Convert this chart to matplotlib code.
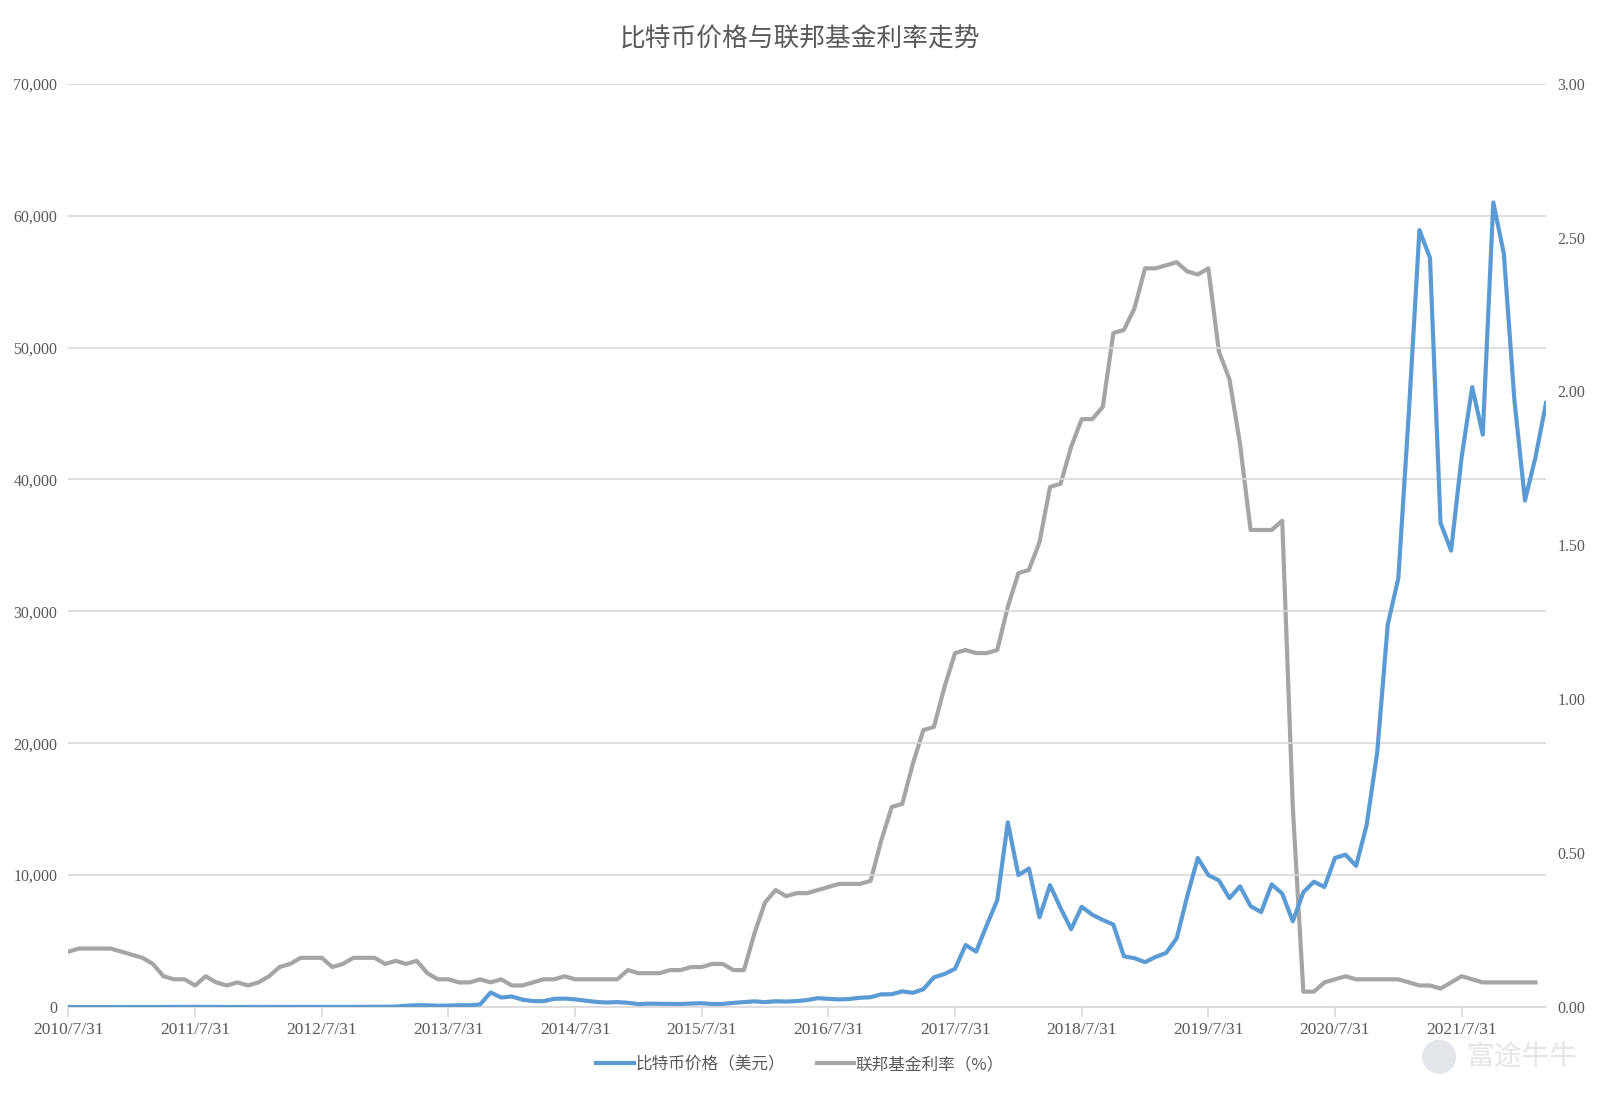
import matplotlib
matplotlib.use("Agg")
import matplotlib.pyplot as plt
from matplotlib.lines import Line2D
from matplotlib.patches import Ellipse

# ---------------- data ----------------
tick_labels = ["2010/7/31", "2011/7/31", "2012/7/31", "2013/7/31", "2014/7/31", "2015/7/31",
               "2016/7/31", "2017/7/31", "2018/7/31", "2019/7/31", "2020/7/31", "2021/7/31"]

# Monthly BTC price (USD), 2010-07 .. 2022-03
btc_price = [
    0.07, 0.06, 0.06, 0.19, 0.21, 0.30,                                   # 2010
    0.52, 0.86, 0.78, 3.5, 8.7, 16.1, 13.4, 8.2, 5.1, 3.3, 3.0, 4.7,      # 2011
    5.5, 4.9, 4.9, 5.0, 5.2, 6.7, 9.4, 10.2, 12.4, 11.2, 12.6, 13.5,      # 2012
    20, 33, 93, 139, 129, 97, 106, 135, 133, 198, 1100, 720,              # 2013
    800, 560, 450, 440, 620, 640, 580, 480, 390, 340, 375, 320,           # 2014
    220, 255, 245, 235, 230, 265, 285, 230, 237, 315, 375, 430,           # 2015
    370, 435, 415, 450, 530, 670, 625, 575, 610, 700, 745, 960,           # 2016
    970, 1190, 1080, 1350, 2250, 2500, 2900, 4700, 4200, 6200, 8100, 14000,  # 2017
    10000, 10500, 6800, 9240, 7500, 5900, 7600, 7000, 6600, 6250, 3850, 3700,  # 2018
    3400, 3800, 4100, 5200, 8400, 11300, 10000, 9600, 8250, 9150, 7650, 7200,  # 2019
    9300, 8600, 6500, 8700, 9500, 9100, 11300, 11550, 10700, 13800, 19300, 29000,  # 2020
    32500, 45100, 58900, 56800, 36700, 34600, 41700, 47000, 43400, 61000, 57100, 46000,  # 2021
    38400, 41700, 45800,                                                  # 2022
]

# Monthly effective federal funds rate (%), 2010-07 .. 2022-02
fed_rate = [
    0.18, 0.19, 0.19, 0.19, 0.19, 0.18,                                   # 2010
    0.17, 0.16, 0.14, 0.10, 0.09, 0.09, 0.07, 0.10, 0.08, 0.07, 0.08, 0.07,  # 2011
    0.08, 0.10, 0.13, 0.14, 0.16, 0.16, 0.16, 0.13, 0.14, 0.16, 0.16, 0.16,  # 2012
    0.14, 0.15, 0.14, 0.15, 0.11, 0.09, 0.09, 0.08, 0.08, 0.09, 0.08, 0.09,  # 2013
    0.07, 0.07, 0.08, 0.09, 0.09, 0.10, 0.09, 0.09, 0.09, 0.09, 0.09, 0.12,  # 2014
    0.11, 0.11, 0.11, 0.12, 0.12, 0.13, 0.13, 0.14, 0.14, 0.12, 0.12, 0.24,  # 2015
    0.34, 0.38, 0.36, 0.37, 0.37, 0.38, 0.39, 0.40, 0.40, 0.40, 0.41, 0.54,  # 2016
    0.65, 0.66, 0.79, 0.90, 0.91, 1.04, 1.15, 1.16, 1.15, 1.15, 1.16, 1.30,  # 2017
    1.41, 1.42, 1.51, 1.69, 1.70, 1.82, 1.91, 1.91, 1.95, 2.19, 2.20, 2.27,  # 2018
    2.40, 2.40, 2.41, 2.42, 2.39, 2.38, 2.40, 2.13, 2.04, 1.83, 1.55, 1.55,  # 2019
    1.55, 1.58, 0.65, 0.05, 0.05, 0.08, 0.09, 0.10, 0.09, 0.09, 0.09, 0.09,  # 2020
    0.09, 0.08, 0.07, 0.07, 0.06, 0.08, 0.10, 0.09, 0.08, 0.08, 0.08, 0.08,  # 2021
    0.08, 0.08,                                                           # 2022
]

series_names = ["比特币价格（美元）", "联邦基金利率（%）"]

# ---------------- style ----------------
BLUE = "#5B9BD5"
GRAY = "#A5A5A5"
TEXT = "#595959"
GRID = "#D9D9D9"
NUM_FONT = ["Liberation Serif", "DejaVu Serif"]
CJK_FONT = ["Noto Sans CJK SC", "DejaVu Sans"]

W, H = 1600, 1094
fig = plt.figure(figsize=(W / 100, H / 100), dpi=100)
ax = fig.add_axes([0.0428, 0.0795, 0.9235, 0.8440])
ax2 = ax.twinx()

x_btc = list(range(len(btc_price)))
x_fed = list(range(len(fed_rate)))

ax2.plot(x_fed, fed_rate, color=GRAY, lw=3.0, solid_joinstyle="round", zorder=2)
ax.plot(x_btc, btc_price, color=BLUE, lw=3.0, solid_joinstyle="round", zorder=3)
ax.set_zorder(ax2.get_zorder() + 1)
ax.patch.set_visible(False)

ax.set_xlim(0, len(btc_price) - 1)
ax.set_ylim(0, 70000)
ax2.set_ylim(0, 3.0)

ax.set_yticks(range(0, 70001, 10000))
ax.set_yticklabels([f"{v:,}" for v in range(0, 70001, 10000)])
ax2.set_yticks([i * 0.5 for i in range(7)])
ax2.set_yticklabels([f"{i * 0.5:.2f}" for i in range(7)])

ax.set_xticks(range(0, 12 * len(tick_labels), 12))
ax.set_xticklabels(tick_labels)

ax.grid(axis="y", color=GRID, lw=1.2)
ax.set_axisbelow(True)

for a in (ax, ax2):
    for s in ("top", "left", "right"):
        a.spines[s].set_visible(False)
    a.spines["bottom"].set_color(GRID)
    a.spines["bottom"].set_linewidth(1.2)
ax2.spines["bottom"].set_visible(False)

ax.tick_params(axis="y", length=0, pad=8, labelsize=11.5, labelcolor=TEXT)
ax2.tick_params(axis="y", length=0, pad=8, labelsize=11.5, labelcolor=TEXT)
ax.tick_params(axis="x", length=7, width=1.2, color=GRID, pad=4, labelsize=12.5, labelcolor=TEXT)
for lab in ax.get_yticklabels() + ax2.get_yticklabels() + ax.get_xticklabels():
    lab.set_family(NUM_FONT)

fig.text(0.5, 0.964, "比特币价格与联邦基金利率走势", ha="center", va="center",
         fontsize=18.5, color=TEXT, family=CJK_FONT)

handles = [Line2D([0], [0], color=BLUE, lw=3.0), Line2D([0], [0], color=GRAY, lw=3.0)]
leg = fig.legend(handles, series_names, loc="center", bbox_to_anchor=(0.5, 0.027), ncol=2,
                 frameon=False, handlelength=2.25, handletextpad=0.1, columnspacing=1.9,
                 prop={"family": CJK_FONT, "size": 12})
for t in leg.get_texts():
    t.set_color(TEXT)

# watermark
fig.text(0.986, 0.034, "富途牛牛", ha="right", va="center", fontsize=20,
         color="#E2E5E9", family=CJK_FONT)
r_px = 17
fig.patches.append(Ellipse((0.8995, 0.034), 2 * r_px / W, 2 * r_px / H,
                           transform=fig.transFigure, facecolor="#E2E5E9", edgecolor="none"))

fig.savefig("out.png", dpi=100, facecolor="white")
